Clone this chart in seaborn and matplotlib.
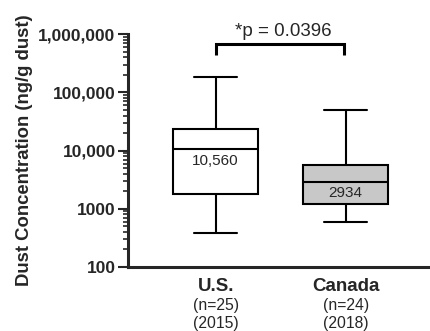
import numpy as np
import pandas as pd
import matplotlib
matplotlib.use("Agg")
import matplotlib.pyplot as plt
import matplotlib.ticker as mticker
import seaborn as sns

# Data (ng/g dust): min, Q1, median, Q3, max
groups      = ["U.S.", "Canada"]
group_n     = ["(n=25)", "(n=24)"]
group_year  = ["(2015)", "(2018)"]
us_summary  = [390, 1800, 10560, 23100, 183000]
can_summary = [596, 1213, 2934, 5730, 49000]
median_text = ["10,560", "2934"]
box_colors  = ["white", "#c8c8c8"]
p_text      = "*p = 0.0396"

ytick_vals   = [100, 1000, 10000, 100000, 1000000]
ytick_labels = ["100", "1000", "10,000", "100,000", "1,000,000"]

df = pd.DataFrame({
    "Group": [groups[0]] * len(us_summary) + [groups[1]] * len(can_summary),
    "Conc" : us_summary + can_summary,
})

sns.set_style("ticks")
plt.rcParams["font.family"] = ["Liberation Sans", "DejaVu Sans"]

fig = plt.figure(figsize=(4.30, 3.31), dpi=100)
ax = fig.add_axes([0.2977, 0.1934, 0.7023, 0.7030])

sns.boxplot(
    data=df, x="Group", y="Conc", hue="Group", palette=box_colors,
    whis=(0, 100), width=0.654, showfliers=False, linecolor="black",
    linewidth=1.5, log_scale=True, legend=False, ax=ax,
    medianprops={"color": "black", "linewidth": 1.5},
)

ax.set_ylim(100, 1000000)
ax.set_xlim(-0.674, 1.649)

# y ticks
ax.yaxis.set_major_locator(mticker.FixedLocator(ytick_vals))
ax.yaxis.set_major_formatter(mticker.FixedFormatter(ytick_labels))
ax.yaxis.set_minor_locator(mticker.LogLocator(base=10, subs=np.arange(2, 10)))
ax.yaxis.set_minor_formatter(mticker.NullFormatter())
ax.tick_params(axis="y", which="major", length=7, width=1.5, labelsize=12.5, pad=2)
ax.tick_params(axis="y", which="minor", length=3.5, width=1.2)
for lab in ax.get_yticklabels():
    lab.set_fontweight("bold")

# x ticks: bold group names, then n and year below
ax.set_xticks([0, 1])
ax.set_xticklabels(groups, fontweight="bold", fontsize=13.5)
ax.tick_params(axis="x", length=0, pad=8)
for i in range(len(groups)):
    ax.text(i, -0.165, group_n[i], transform=ax.get_xaxis_transform(),
            ha="center", va="center", fontsize=11.3)
    ax.text(i, -0.242, group_year[i], transform=ax.get_xaxis_transform(),
            ha="center", va="center", fontsize=11.3)

ax.set_xlabel("")
ax.set_ylabel("Dust Concentration (ng/g dust)", fontweight="bold", fontsize=13.3, labelpad=4)

for side in ["top", "right"]:
    ax.spines[side].set_visible(False)
for side in ["left", "bottom"]:
    ax.spines[side].set_linewidth(2.2)

# median values written inside the boxes
medians = [us_summary[2], can_summary[2]]
for i, txt in enumerate(median_text):
    ax.annotate(txt, (i, medians[i]), xytext=(0, -3.5), textcoords="offset points",
                ha="center", va="top", fontsize=11)

# significance bracket
yb_top, yb_leg = 676000, 441000
ax.plot([0, 0, 0.985, 0.985], [yb_leg, yb_top, yb_top, yb_leg], color="black",
        lw=2.2, clip_on=False, solid_capstyle="butt", solid_joinstyle="miter")
ax.text(0.52, yb_top * 1.2, p_text, ha="center", va="bottom", fontsize=13.5)

fig.savefig("out.png", dpi=100)
